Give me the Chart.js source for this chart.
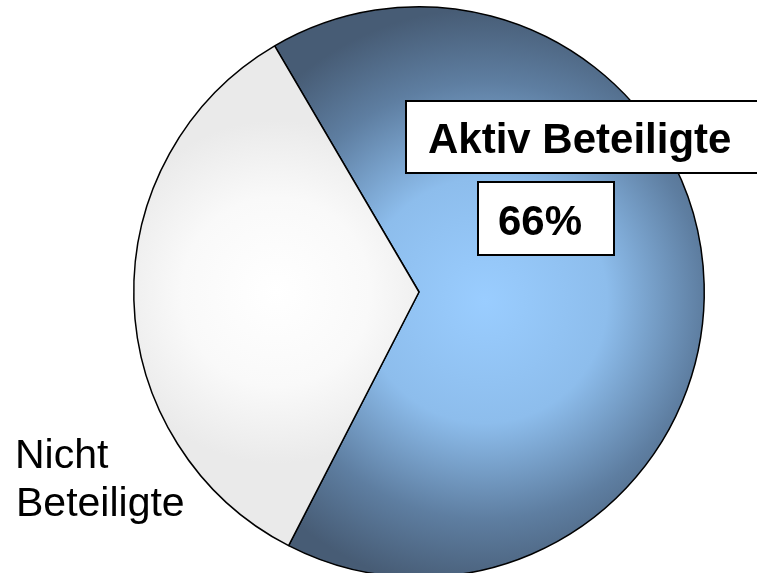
<!DOCTYPE html>
<html>
<head>
<meta charset="utf-8">
<script src="https://cdn.jsdelivr.net/npm/chart.js@4.4.1/dist/chart.umd.min.js"></script>
<style>
    html, body { margin: 0; padding: 0; background: #fff; overflow: hidden; }
    .graph-container { width: 757px; height: 590px; }
</style>
</head>
<body>
<div class="graph-container">
    <canvas id="canvas" width="757" height="590"></canvas>
</div>
<script>
let categories = ["Aktiv Beteiligte", "Nicht Beteiligte"];
let values = [66, 34];
let percentLabels = values.map(v => v + "%");

let font = "'Liberation Sans', Arial, Helvetica, sans-serif";

// radial fill for each slice, placed relative to the pie centre
function sliceFill(context) {
    let chart = context.chart;
    let area = chart.chartArea;
    if (!area) return "#8fb8e0";
    let ctx = chart.ctx;
    let cx = (area.left + area.right) / 2;
    let cy = (area.top + area.bottom) / 2;
    let r = Math.min(area.width, area.height) / 2;
    let g;
    if (context.dataIndex === 0) {
        g = ctx.createRadialGradient(cx + 0.23 * r, cy + 0.03 * r, 0, cx + 0.23 * r, cy + 0.03 * r, r * 1.02);
        g.addColorStop(0, "#9acdff");
        g.addColorStop(0.42, "#8dbdec");
        g.addColorStop(0.75, "#5e7ea1");
        g.addColorStop(1, "#475c75");
    } else {
        g = ctx.createRadialGradient(cx - 0.5 * r, cy, 0, cx - 0.5 * r, cy, r * 0.6);
        g.addColorStop(0, "#ffffff");
        g.addColorStop(0.55, "#f9f9f9");
        g.addColorStop(1, "#eaeaea");
    }
    return g;
}

let boxLabels = {
    id: "boxLabels",
    afterDraw(chart) {
        let ctx = chart.ctx;
        ctx.save();
        ctx.lineWidth = 2;
        ctx.strokeStyle = "#000";
        ctx.fillStyle = "#fff";

        // category box (runs off the right edge)
        ctx.fillRect(406, 101, 360, 72);
        ctx.strokeRect(406, 101, 360, 72);
        ctx.fillRect(478, 182, 136, 73);
        ctx.strokeRect(478, 182, 136, 73);

        ctx.fillStyle = "#000";
        ctx.textAlign = "left";
        ctx.textBaseline = "alphabetic";
        ctx.font = "bold 42px " + font;
        ctx.fillText(categories[0], 428, 153);
        ctx.fillText(percentLabels[0], 498, 235);

        ctx.font = "41px " + font;
        let words = categories[1].split(" ");
        ctx.fillText(words[0], 15, 468);
        ctx.fillText(words[1], 16, 516);
        ctx.restore();
    }
};

let chart = new Chart(document.getElementById("canvas").getContext("2d"), {
    type: "pie",
    data: {
        labels: categories,
        datasets: [{
            data: values,
            backgroundColor: sliceFill,
            borderColor: "#000",
            borderWidth: 1.5
        }]
    },
    options: {
        responsive: false,
        animation: false,
        rotation: -30.4,
        layout: {
            padding: { left: 133, right: 52, top: 6, bottom: 12 }
        },
        plugins: {
            legend: { display: false },
            tooltip: { enabled: false }
        }
    },
    plugins: [boxLabels]
});
</script>
</body>
</html>
